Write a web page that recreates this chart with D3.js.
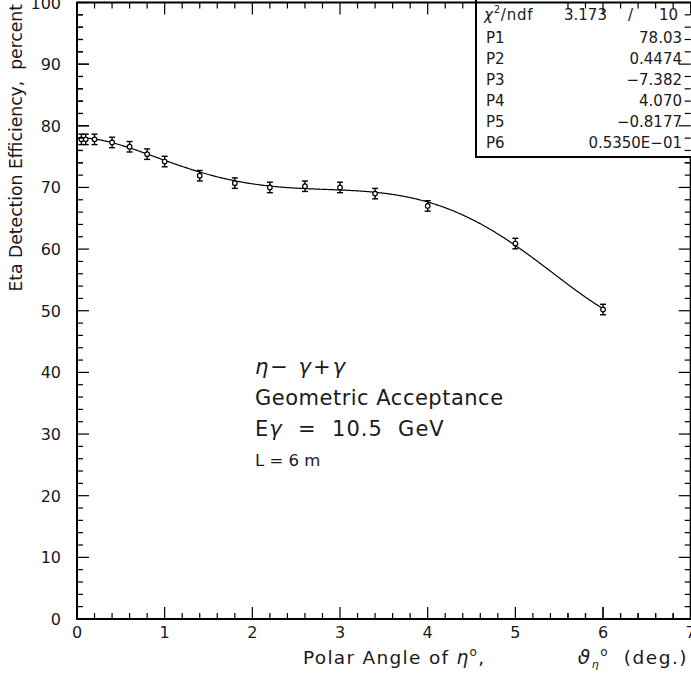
<!DOCTYPE html>
<html><head><meta charset="utf-8">
<script src="https://cdn.jsdelivr.net/npm/d3@7"></script>
<style>body{margin:0;background:#fff}svg{display:block}text{font-family:"DejaVu Sans",sans-serif;fill:#1a1a1a;white-space:pre}</style>
</head><body>
<script>
const angles = [0.05,0.1,0.2,0.4,0.6,0.8,1.0,1.4,1.8,2.2,2.6,3.0,3.4,4.0,5.0,6.0];
const effic  = [77.8,77.8,77.8,77.3,76.6,75.4,74.2,71.9,70.7,70.0,70.2,70.0,69.0,67.0,60.9,50.2];
const errs   = [0.85,0.85,0.85,0.85,0.85,0.85,0.85,0.85,0.85,0.85,0.85,0.85,0.85,0.85,0.85,0.85];
const fitPars = [78.03,0.4474,-7.382,4.070,-0.8177,0.05350];
const statNames = ["P1","P2","P3","P4","P5","P6"];
const statVals = ["78.03","0.4474","\u22127.382","4.070","\u22120.8177","0.5350E\u221201"];
const xTicks = [0,1,2,3,4,5,6,7];
const yTicks = [0,10,20,30,40,50,60,70,80,90,100];

const W=691,H=675;
const svg=d3.select("body").append("svg").attr("width",W).attr("height",H);
const x=d3.scaleLinear().domain([0,7]).range([77,690.7]);
const y=d3.scaleLinear().domain([0,100]).range([619,2.5]);

// frame
svg.append("rect").attr("x",x(0)).attr("y",y(100)).attr("width",x(7)-x(0)).attr("height",y(0)-y(100))
  .attr("fill","none").attr("stroke","#000").attr("stroke-width",2);

const xMinor=d3.range(0,35).map(i=>i*0.2).filter(v=>Math.abs(v-Math.round(v))>1e-6);
const yMinor=d3.range(0,50).map(i=>i*2).filter(v=>v%10!==0);
function drawTicks(g, filt){
  xTicks.filter(filt.x).forEach(v=>{g.append("line").attr("x1",x(v)).attr("x2",x(v)).attr("y1",y(0)).attr("y2",y(0)-12);
    g.append("line").attr("x1",x(v)).attr("x2",x(v)).attr("y1",y(100)).attr("y2",y(100)+12);});
  xMinor.filter(filt.x).forEach(v=>{g.append("line").attr("x1",x(v)).attr("x2",x(v)).attr("y1",y(0)).attr("y2",y(0)-6);
    g.append("line").attr("x1",x(v)).attr("x2",x(v)).attr("y1",y(100)).attr("y2",y(100)+6);});
  yTicks.filter(filt.y).forEach(v=>{g.append("line").attr("x1",x(0)).attr("x2",x(0)+12).attr("y1",y(v)).attr("y2",y(v));
    g.append("line").attr("x1",x(7)).attr("x2",x(7)-12).attr("y1",y(v)).attr("y2",y(v));});
  yMinor.filter(filt.y).forEach(v=>{g.append("line").attr("x1",x(0)).attr("x2",x(0)+6).attr("y1",y(v)).attr("y2",y(v));
    g.append("line").attr("x1",x(7)).attr("x2",x(7)-6).attr("y1",y(v)).attr("y2",y(v));});
}
drawTicks(svg.append("g").attr("stroke","#000").attr("stroke-width",1.2),{x:()=>true,y:()=>true});

// tick labels
xTicks.forEach(v=>svg.append("text").attr("x",x(v)).attr("y",638).attr("text-anchor","middle").attr("font-size",16).text(v));
yTicks.forEach(v=>svg.append("text").attr("x",61).attr("y",y(v)+6).attr("text-anchor","end").attr("font-size",16).text(v));

// axis titles
svg.append("text").attr("transform","translate(22,4) rotate(-90)").attr("text-anchor","end").attr("font-size",17.2)
  .text("Eta Detection Efficiency,  percent");
const xt=svg.append("text").attr("x",303).attr("y",664).attr("font-size",18.5).attr("letter-spacing",1.3);
xt.append("tspan").text("Polar Angle of ");
xt.append("tspan").attr("font-style","italic").text("\u03b7");
xt.append("tspan").attr("dy",-8).attr("font-size",12).text("o");
xt.append("tspan").attr("dy",8).text(",");
const xt2=svg.append("text").attr("x",688).attr("y",664).attr("font-size",18.5).attr("text-anchor","end").attr("letter-spacing",1.5);
xt2.append("tspan").attr("font-style","italic").attr("font-size",20).text("\u03d1");
xt2.append("tspan").attr("dy",4).attr("font-size",11).attr("font-style","italic").text("\u03b7");
xt2.append("tspan").attr("dy",-12).attr("font-size",12).text("o");
xt2.append("tspan").attr("dy",8).text("  (deg.)");

// fit curve from displayed parameters
const fit=v=>fitPars.reduce((s,p,i)=>s+p*Math.pow(v,i),0);
const xs=d3.range(0,601).map(i=>0.05+i*(5.95/600));
svg.append("path").attr("d",d3.line().x(d=>x(d)).y(d=>y(fit(d)))(xs))
  .attr("fill","none").attr("stroke","#000").attr("stroke-width",1.2);

// points with error bars
const pts=svg.append("g").attr("stroke","#000");
angles.forEach((a,i)=>{
  const cx=x(a),cy=y(effic[i]),y1=y(effic[i]+errs[i]),y2=y(effic[i]-errs[i]);
  pts.append("line").attr("x1",cx).attr("x2",cx).attr("y1",y1).attr("y2",y2).attr("stroke-width",1.4);
  pts.append("line").attr("x1",cx-3).attr("x2",cx+3).attr("y1",y1).attr("y2",y1).attr("stroke-width",1.4);
  pts.append("line").attr("x1",cx-3).attr("x2",cx+3).attr("y1",y2).attr("y2",y2).attr("stroke-width",1.4);
  pts.append("circle").attr("cx",cx).attr("cy",cy).attr("r",2.3).attr("fill","#fff").attr("stroke-width",1.2);
});

// annotation
const a1=svg.append("text").attr("x",255).attr("y",374).attr("font-size",21).attr("letter-spacing",2);
a1.append("tspan").attr("font-style","italic").text("\u03b7");
a1.append("tspan").text("\u2212 ");
a1.append("tspan").attr("font-style","italic").text("\u03b3");
a1.append("tspan").text("+");
a1.append("tspan").attr("font-style","italic").text("\u03b3");
svg.append("text").attr("x",255).attr("y",405).attr("font-size",21).attr("letter-spacing",0.5).text("Geometric Acceptance");
const a3=svg.append("text").attr("x",255).attr("y",436).attr("font-size",21).attr("letter-spacing",1);
a3.append("tspan").text("E");
a3.append("tspan").attr("font-style","italic").text("\u03b3");
a3.append("tspan").text("  =  10.5  GeV");
svg.append("text").attr("x",255).attr("y",466).attr("font-size",16.5).text("L = 6 m");

// stats box
svg.append("rect").attr("x",476).attr("y",-2).attr("width",217).attr("height",159)
  .attr("fill","#fff").attr("stroke","#000").attr("stroke-width",2);
const ch=svg.append("text").attr("x",484).attr("y",20).attr("font-size",15).attr("letter-spacing",0.8);
ch.append("tspan").attr("font-style","italic").text("\u03c7");
ch.append("tspan").attr("dy",-7).attr("font-size",10).text("2");
ch.append("tspan").attr("dy",7).text("/ndf");
svg.append("text").attr("x",564).attr("y",20).attr("font-size",15).text("3.173");
svg.append("text").attr("x",628).attr("y",20).attr("font-size",15).text("/");
svg.append("text").attr("x",678).attr("y",20).attr("font-size",15).attr("text-anchor","end").text("10");
statNames.forEach((n,i)=>{
  const yy=43+i*21;
  svg.append("text").attr("x",486).attr("y",yy).attr("font-size",15).text(n);
  svg.append("text").attr("x",682).attr("y",yy).attr("font-size",15).attr("text-anchor","end").text(statVals[i]);
});
// ticks over box region
drawTicks(svg.append("g").attr("stroke","#000").attr("stroke-width",1.2),{x:v=>v>=5.5,y:v=>v>=74});
svg.append("line").attr("x1",476).attr("x2",691).attr("y1",y(100)).attr("y2",y(100)).attr("stroke","#000").attr("stroke-width",2);
</script>
</body></html>
